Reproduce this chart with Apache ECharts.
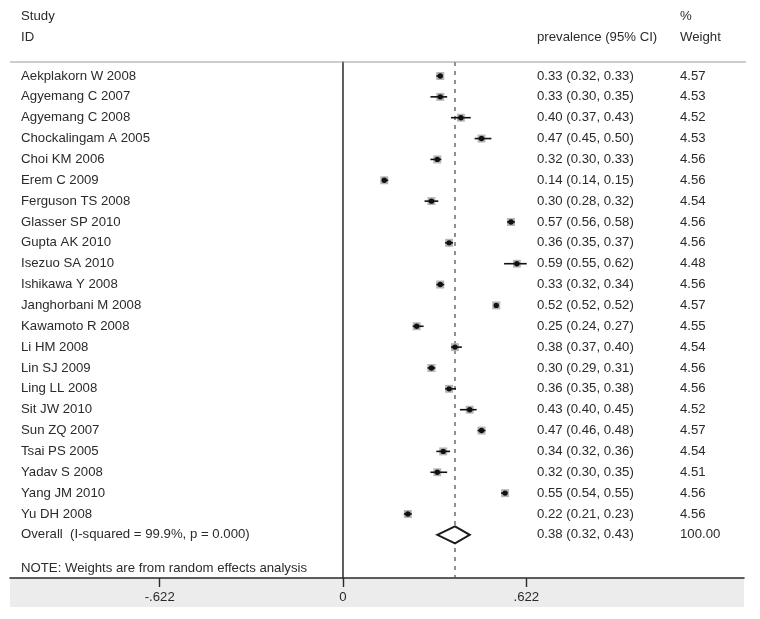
<!DOCTYPE html>
<html>
<head>
<meta charset="utf-8">
<script src="https://cdn.jsdelivr.net/npm/echarts@6/dist/echarts.min.js"></script>
<style>html,body{margin:0;padding:0;background:#fff}#c{width:760px;height:619px}</style>
</head>
<body>
<div id="c"></div>
<script>
const studies = ['Aekplakorn W 2008','Agyemang C 2007','Agyemang C 2008','Chockalingam A 2005','Choi KM 2006','Erem C 2009','Ferguson TS 2008','Glasser SP 2010','Gupta AK 2010','Isezuo SA 2010','Ishikawa Y 2008','Janghorbani M 2008','Kawamoto R 2008','Li HM 2008','Lin SJ 2009','Ling LL 2008','Sit JW 2010','Sun ZQ 2007','Tsai PS 2005','Yadav S 2008','Yang JM 2010','Yu DH 2008'];
const est = [0.33,0.33,0.40,0.47,0.32,0.14,0.30,0.57,0.36,0.59,0.33,0.52,0.25,0.38,0.30,0.36,0.43,0.47,0.34,0.32,0.55,0.22];
const lo  = [0.32,0.30,0.37,0.45,0.30,0.14,0.28,0.56,0.35,0.55,0.32,0.52,0.24,0.37,0.29,0.35,0.40,0.46,0.32,0.30,0.54,0.21];
const hi  = [0.33,0.35,0.43,0.50,0.33,0.15,0.32,0.58,0.37,0.62,0.34,0.52,0.27,0.40,0.31,0.38,0.45,0.48,0.36,0.35,0.55,0.23];
const weights = [4.57,4.53,4.52,4.53,4.56,4.56,4.54,4.56,4.56,4.48,4.56,4.57,4.55,4.54,4.56,4.56,4.52,4.57,4.54,4.51,4.56,4.56];
const overallLabel = 'Overall  (I-squared = 99.9%, p = 0.000)';
const overallEst = 0.38, overallLo = 0.32, overallHi = 0.43, overallWeight = '100.00';
const tickValues = [-0.622, 0, 0.622];
const tickLabels = ['-.622', '0', '.622'];

const FONT = '"Liberation Sans", Arial, Helvetica, sans-serif';
const FS = '13.2px ';
const TXT = '#2b2b2b';
const f2 = v => v.toFixed(2);

const chart = echarts.init(document.getElementById('c'), null, {renderer: 'canvas'});

const studyData = studies.map((s, i) => [est[i], i, lo[i], hi[i], weights[i]]);

function txt(x, y, s) {
  return {type: 'text', x: x, y: y, style: {text: s, fill: TXT, font: FS + FONT, textAlign: 'left', textVerticalAlign: 'middle'}, z2: 10};
}

chart.setOption({
  animation: false,
  grid: {left: 10, right: 16, top: 62, bottom: 41},
  xAxis: {
    type: 'value', min: -1.130, max: 1.3607,
    axisLine: {show: true, onZero: false, lineStyle: {color: '#2a2a2a', width: 1.6}},
    axisTick: {show: true, customValues: tickValues, length: 9, lineStyle: {color: '#2a2a2a', width: 1.4}},
    axisLabel: {customValues: tickValues, margin: 13, fontSize: 13.2, fontFamily: FONT, color: TXT,
      formatter: v => { const k = tickValues.findIndex(t => Math.abs(t - v) < 1e-6); return k >= 0 ? tickLabels[k] : ''; }},
    splitLine: {show: false}
  },
  yAxis: {
    type: 'value', min: -0.671, max: 24.07, inverse: true,
    axisLine: {show: true, onZero: true, lineStyle: {color: '#2a2a2a', width: 1.5}},
    axisTick: {show: false}, axisLabel: {show: false}, splitLine: {show: false}
  },
  graphic: [
    {type: 'rect', shape: {x: 10, y: 578, width: 734, height: 29}, style: {fill: '#ececec'}, z: -10, silent: true},
    {type: 'line', shape: {x1: 10, y1: 62, x2: 746, y2: 62}, style: {stroke: '#9a9a9a', lineWidth: 1}, z: 5},
    {type: 'text', left: 21, top: 10, style: {text: 'Study', fill: TXT, font: FS + FONT}},
    {type: 'text', left: 21, top: 31, style: {text: 'ID', fill: TXT, font: FS + FONT}},
    {type: 'text', left: 537, top: 31, style: {text: 'prevalence (95% CI)', fill: TXT, font: FS + FONT}},
    {type: 'text', left: 680, top: 10, style: {text: '%', fill: TXT, font: FS + FONT}},
    {type: 'text', left: 680, top: 31, style: {text: 'Weight', fill: TXT, font: FS + FONT}},
    {type: 'text', left: 21, top: 562, style: {text: 'NOTE: Weights are from random effects analysis', fill: TXT, font: FS + FONT}}
  ],
  series: [
    {
      type: 'custom',
      clip: false,
      data: [[overallEst, studies.length, overallLo, overallHi]],
      renderItem: function (params, api) {
        const cs = params.coordSys;
        const row = api.value(1);
        const c = api.coord([api.value(0), row]);
        const xl = api.coord([api.value(2), row])[0];
        const xh = api.coord([api.value(3), row])[0];
        const h = 8.5;
        return {type: 'group', children: [
          {type: 'line', shape: {x1: c[0], y1: cs.y, x2: c[0], y2: cs.y + cs.height}, style: {stroke: '#555', lineWidth: 1.3, lineDash: [4, 5]}, z2: 1},
          {type: 'polygon', shape: {points: [[xl, c[1]], [c[0], c[1] - h], [xh, c[1]], [c[0], c[1] + h]]}, style: {fill: '#fff', stroke: '#1a1a1a', lineWidth: 2}, z2: 5},
          txt(cs.x + 11, c[1], overallLabel),
          txt(cs.x + 527, c[1], f2(api.value(0)) + ' (' + f2(api.value(2)) + ', ' + f2(api.value(3)) + ')'),
          txt(cs.x + 670, c[1], overallWeight)
        ]};
      }
    },
    {
      type: 'custom',
      clip: false,
      data: studyData,
      renderItem: function (params, api) {
        const cs = params.coordSys;
        const i = params.dataIndex;
        const row = api.value(1);
        const c = api.coord([api.value(0), row]);
        const xl = api.coord([api.value(2), row])[0];
        const xh = api.coord([api.value(3), row])[0];
        const w = api.value(4);
        const s = w * 1.75;
        return {type: 'group', children: [
          {type: 'rect', shape: {x: c[0] - s / 2, y: c[1] - s / 2, width: s, height: s}, style: {fill: '#b5b5b5'}, z2: 6},
          {type: 'line', shape: {x1: xl - 1, y1: c[1], x2: xh + 1, y2: c[1]}, style: {stroke: '#111', lineWidth: 1.6}, z2: 7},
          {type: 'circle', shape: {cx: c[0], cy: c[1], r: 2.7}, style: {fill: '#111'}, z2: 8},
          txt(cs.x + 11, c[1], studies[i]),
          txt(cs.x + 527, c[1], f2(api.value(0)) + ' (' + f2(api.value(2)) + ', ' + f2(api.value(3)) + ')'),
          txt(cs.x + 670, c[1], w.toFixed(2))
        ]};
      }
    }
  ]
});
</script>
</body>
</html>
